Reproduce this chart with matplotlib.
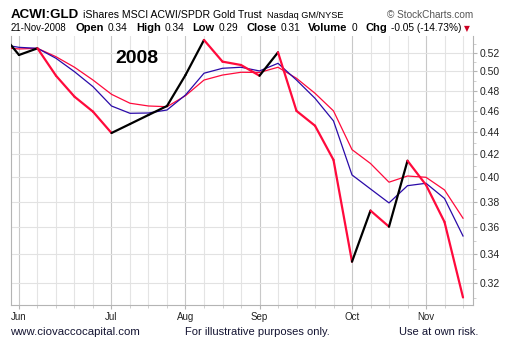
import matplotlib
matplotlib.use('Agg')
import matplotlib.pyplot as plt
from matplotlib.collections import LineCollection
from matplotlib.ticker import FixedLocator, FixedFormatter, NullFormatter
import numpy as np

# weekly data, May 26 2008 .. Nov 17 2008 (week index 0..25)
price = [0.5427, 0.5175, 0.5248, 0.4954, 0.4740, 0.4593, 0.4391, 0.4475, 0.4561,
         0.4648, 0.4961, 0.5341, 0.5103, 0.5067, 0.4954, 0.5204, 0.4600, 0.4459,
         0.4149, 0.3349, 0.3729, 0.3605, 0.4142, 0.3936, 0.3641, 0.3106]
ma_short = [0.5293, 0.5259, 0.5248, 0.5139, 0.4996, 0.4841, 0.4648, 0.4577, 0.4580,
            0.4609, 0.4757, 0.4980, 0.5032, 0.5043, 0.5004, 0.5085, 0.4909, 0.4724,
            0.4504, 0.4020, 0.3903, 0.3790, 0.3930, 0.3950, 0.3826, 0.3535]
ma_long = [0.5258, 0.5241, 0.5248, 0.5156, 0.5043, 0.4909, 0.4764, 0.4675, 0.4648,
           0.4641, 0.4750, 0.4909, 0.4961, 0.4990, 0.4988, 0.5043, 0.4927, 0.4774,
           0.4600, 0.4240, 0.4118, 0.3959, 0.4011, 0.4000, 0.3895, 0.3670]
month_pos = [1, 6, 10, 14, 19, 23]
month_labels = ['Jun', 'Jul', 'Aug', 'Sep', 'Oct', 'Nov']
y_ticks = [0.32, 0.34, 0.36, 0.38, 0.40, 0.42, 0.44, 0.46, 0.48, 0.50, 0.52]

RED = '#ff0a3c'
BLUE = '#2a0aa8'
W, H = 510, 363
FONT = 'Liberation Sans'

fig = plt.figure(figsize=(W / 100, H / 100), dpi=100)
ax = fig.add_axes([11 / W, 1 - 305 / H, (473 - 11) / W, (305 - 36) / H])
ax.set_yscale('log')

x = np.arange(len(price))
ax.plot(x, ma_long, color=RED, lw=0.9, zorder=3)
ax.plot(x, ma_short, color=BLUE, lw=0.9, zorder=4)

# price line: red on falling weeks, black otherwise
pts = np.column_stack([x, price])
segs = np.stack([pts[:-1], pts[1:]], axis=1)
cols = ['black'] + [RED if b < a else 'black' for a, b in zip(price[1:-1], price[2:])]
ax.add_collection(LineCollection(segs, colors=cols, linewidths=1.6, zorder=5,
                                 capstyle='round', joinstyle='round'))

ax.set_xlim(0.568, 25.54)
ax.set_ylim(0.3057, 0.5386)

# axes styling
ax.spines['top'].set_visible(False)
for s in ['left', 'bottom', 'right']:
    ax.spines[s].set_color('#b4b4b4')
    ax.spines[s].set_linewidth(0.8)

ax.yaxis.tick_right()
ax.yaxis.set_major_locator(FixedLocator(y_ticks))
ax.yaxis.set_major_formatter(FixedFormatter(['%.2f' % v for v in y_ticks]))
ax.yaxis.set_minor_locator(FixedLocator(np.arange(0.31, 0.54, 0.01)))
ax.yaxis.set_minor_formatter(NullFormatter())
ax.tick_params(axis='y', which='major', length=3, color='#b4b4b4', pad=2,
               labelsize=7.5, labelcolor='#222222')
ax.tick_params(axis='y', which='minor', length=2, color='#c8c8c8')

ax.xaxis.set_major_locator(FixedLocator(month_pos))
ax.xaxis.set_major_formatter(FixedFormatter(month_labels))
ax.xaxis.set_minor_locator(FixedLocator(x[1:]))
ax.tick_params(axis='x', which='major', length=3, color='#b4b4b4', pad=2,
               labelsize=7, labelcolor='#222222')
ax.tick_params(axis='x', which='minor', length=2, color='#c8c8c8')
for lab in ax.get_xticklabels() + ax.get_yticklabels():
    lab.set_family(FONT)

ax.grid(True, which='major', axis='y', color='#e2e2e2', lw=0.8)
for i in x[1:]:
    c = '#c8c8c8' if i in month_pos else '#e4e4e4'
    ax.axvline(i, color=c, lw=0.8, zorder=1)

ax.text(0.225, 0.915, '2008', transform=ax.transAxes, fontsize=14,
        fontweight='bold', family=FONT, color='black', va='center', zorder=6)

# header rows, placed piece by piece
renderer = fig.canvas.get_renderer()

def put(xp, yp, s, **kw):
    kw.setdefault('family', FONT)
    t = fig.text(xp / W, 1 - yp / H, s, va='baseline', ha='left', **kw)
    bb = t.get_window_extent(renderer)
    return bb.x1

xp = put(11, 18, 'ACWI:GLD', fontsize=9.6, fontweight='bold')
xp = put(xp + 4, 18, 'iShares MSCI ACWI/SPDR Gold Trust', fontsize=7.6)
xp = put(xp + 5, 18, 'Nasdaq GM/NYSE', fontsize=6.6)
fig.text(473 / W, 1 - 18 / H, '\u00a9 StockCharts.com', fontsize=7.2, family=FONT,
         color='#555555', ha='right', va='baseline')

row2 = [('21-Nov-2008', False), ('Open', True), ('0.34', False), ('High', True),
        ('0.34', False), ('Low', True), ('0.29', False), ('Close', True),
        ('0.31', False), ('Volume', True), ('0', False), ('Chg', True),
        ('-0.05 (-14.73%)', False)]
xp = 11
for k, (s, b) in enumerate(row2):
    if k == 0:
        xp = put(xp, 31, s, fontsize=6.9)
        continue
    gap = 9 if k == 1 else (8 if b else 4)
    xp = put(xp + gap, 31, s, fontsize=8.0 if b else 7.3,
             fontweight='bold' if b else 'normal')
fig.text((xp + 3) / W, 1 - 31 / H, '\u25bc', fontsize=5.5, family='DejaVu Sans',
         color='#cc0022', ha='left', va='baseline')

# footer
foot = '#141432'
fig.text(10 / W, 1 - 335 / H, 'www.ciovaccocapital.com', fontsize=8.2, family=FONT,
         color=foot, va='baseline')
fig.text(185 / W, 1 - 335 / H, 'For illustrative purposes only.', fontsize=8,
         family=FONT, color=foot, va='baseline')
fig.text(399 / W, 1 - 335 / H, 'Use at own risk.', fontsize=8, family=FONT,
         color=foot, va='baseline')

fig.savefig('out.png', dpi=100)
